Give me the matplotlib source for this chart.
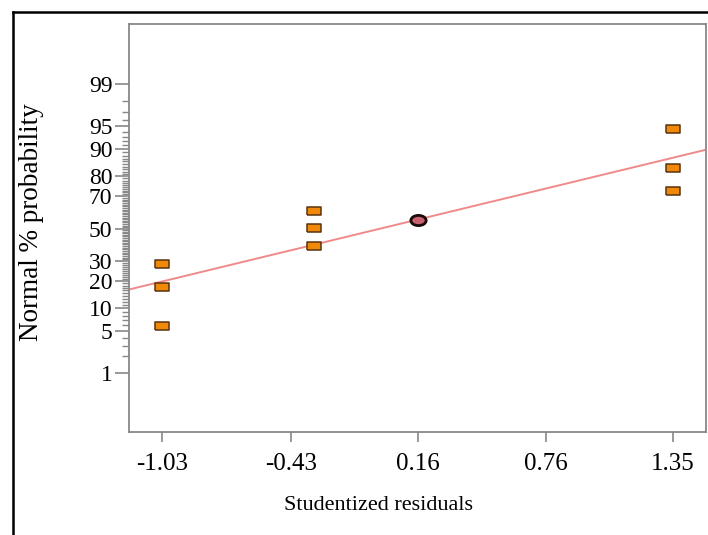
import matplotlib.pyplot as plt
from matplotlib.lines import Line2D
from matplotlib.path import Path
from matplotlib.transforms import Affine2D
from statistics import NormalDist

# values (probability in %)
resid_sq = [-1.03, -1.03, -1.03, -0.32, -0.32, -0.32, 1.35, 1.35, 1.35]
prob_sq = [5.8, 17.2, 28.7, 39.2, 50.6, 61.4, 72.9, 83.6, 94.6]
resid_hl = [0.16]
prob_hl = [55.8]

# fitted line in z units: z = b0 + b1 * x
b0 = 0.011
b1 = 0.836

xticks = [-1.03, -0.43, 0.16, 0.76, 1.35]
xticklabels = ["-1.03", "-0.43", "0.16", "0.76", "1.35"]
yticks_pct = [1, 5, 10, 20, 30, 50, 70, 80, 90, 95, 99]

nd = NormalDist()
def z(p):
    return nd.inv_cdf(p / 100.0)

plt.rcParams['font.family'] = ['Liberation Serif', 'DejaVu Serif']

fig = plt.figure(figsize=(7.08, 5.35), dpi=100)
ax = fig.add_axes([129/708, 1 - 432/535, (706 - 129)/708, (432 - 24)/535])

xlim = (-1.184, 1.504)
ax.set_xlim(*xlim)
ax.set_ylim(-3.27, 3.29)

ax.plot(list(xlim), [b0 + b1 * xlim[0], b0 + b1 * xlim[1]],
        color='#f08a8a', lw=1.4, zorder=2)

rect = [(-1.5, -1), (1.5, -1), (1.5, 1), (-1.5, 1), (-1.5, -1)]
ax.plot(resid_sq, [z(p) for p in prob_sq], ls='none', marker=rect,
        markersize=9.5, markerfacecolor='#f0880a', markeredgecolor='#5a3310',
        markeredgewidth=1.1, zorder=3)

ell = Path.unit_circle().transformed(Affine2D().scale(1.5, 1.0))
ax.plot(resid_hl, [z(p) for p in prob_hl], ls='none', marker=ell,
        markersize=11, markerfacecolor='#c86070', markeredgecolor='#1a0a0a',
        markeredgewidth=2.0, zorder=3)

ax.set_xticks(xticks)
ax.set_xticklabels(xticklabels, fontsize=18)
ax.set_yticks([z(p) for p in yticks_pct])
ax.set_yticklabels([str(p) for p in yticks_pct], fontsize=17)
minor = [z(p) for p in range(2, 99) if p not in yticks_pct]
ax.set_yticks(minor, minor=True)

for s in ax.spines.values():
    s.set_color('#888888')
    s.set_linewidth(1.3)
ax.tick_params(axis='x', which='major', length=7, width=1.2, color='#888888', pad=8)
ax.tick_params(axis='y', which='major', length=10, width=1.2, color='#888888', pad=2)
ax.tick_params(axis='y', which='minor', length=5, width=1.0, color='#888888')

fig.text(378/708, 1 - 506/535, 'Studentized residuals', fontsize=16,
         ha='center', va='center')
fig.text(32/708, 1 - 222/535, 'Normal % probability', fontsize=19.5,
         ha='center', va='center', rotation=90)

# outer frame lines (top and left)
fig.add_artist(Line2D([13/708, 1], [1 - 12/535, 1 - 12/535], color='black', lw=1.8,
                      transform=fig.transFigure))
fig.add_artist(Line2D([13/708, 13/708], [0, 1 - 12/535], color='black', lw=1.8,
                      transform=fig.transFigure))

fig.savefig('out.png', dpi=100)
